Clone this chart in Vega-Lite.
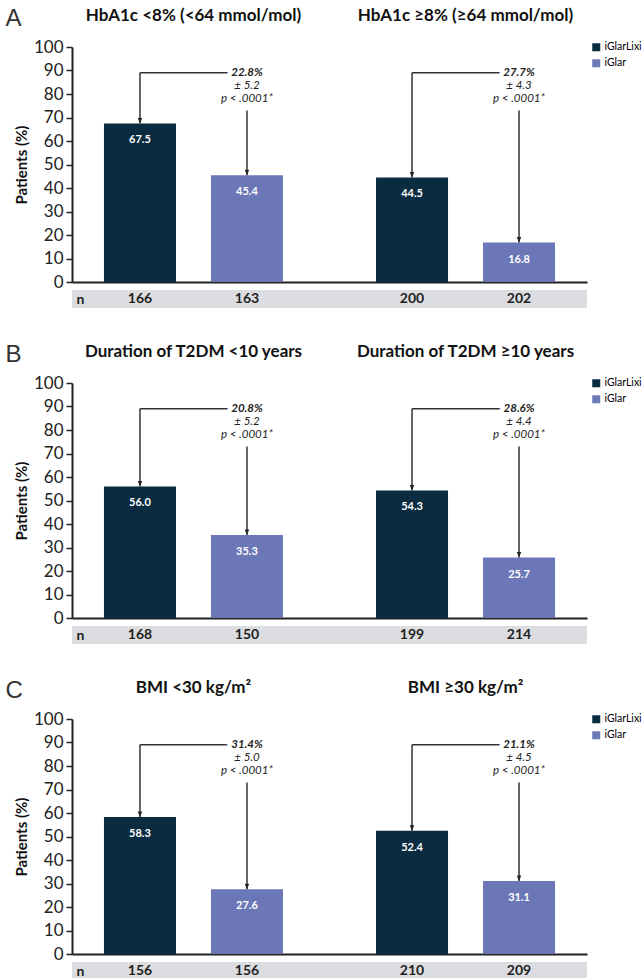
{
  "$schema": "https://vega.github.io/schema/vega-lite/v6.json",
  "background": "white",
  "padding": {"left": 5, "top": 6, "right": 0, "bottom": 0},
  "config": {"font": "Lato", "view": {"stroke": null}, "axis": {"grid": false}},
  "datasets": {
    "A": [
      {"group": "HbA1c <8% (<64 mmol/mol)", "arm": "iGlarLixi", "value": 67.5, "n": 166},
      {"group": "HbA1c <8% (<64 mmol/mol)", "arm": "iGlar", "value": 45.4, "n": 163, "diff": "22.8%", "se": "± 5.2", "p": "p < .0001*"},
      {"group": "HbA1c ≥8% (≥64 mmol/mol)", "arm": "iGlarLixi", "value": 44.5, "n": 200},
      {"group": "HbA1c ≥8% (≥64 mmol/mol)", "arm": "iGlar", "value": 16.8, "n": 202, "diff": "27.7%", "se": "± 4.3", "p": "p < .0001*"}
    ],
    "B": [
      {"group": "Duration of T2DM <10 years", "arm": "iGlarLixi", "value": 56.0, "n": 168},
      {"group": "Duration of T2DM <10 years", "arm": "iGlar", "value": 35.3, "n": 150, "diff": "20.8%", "se": "± 5.2", "p": "p < .0001*"},
      {"group": "Duration of T2DM ≥10 years", "arm": "iGlarLixi", "value": 54.3, "n": 199},
      {"group": "Duration of T2DM ≥10 years", "arm": "iGlar", "value": 25.7, "n": 214, "diff": "28.6%", "se": "± 4.4", "p": "p < .0001*"}
    ],
    "C": [
      {"group": "BMI <30 kg/m²", "arm": "iGlarLixi", "value": 58.3, "n": 156},
      {"group": "BMI <30 kg/m²", "arm": "iGlar", "value": 27.6, "n": 156, "diff": "31.4%", "se": "± 5.0", "p": "p < .0001*"},
      {"group": "BMI ≥30 kg/m²", "arm": "iGlarLixi", "value": 52.4, "n": 210},
      {"group": "BMI ≥30 kg/m²", "arm": "iGlar", "value": 31.1, "n": 209, "diff": "21.1%", "se": "± 4.5", "p": "p < .0001*"}
    ]
  },
  "resolve": {"scale": {"color": "independent"}, "legend": {"color": "independent"}},
  "spacing": 34,
  "vconcat": [
    {
      "spacing": 0,
      "resolve": {"scale": {"color": "independent"}, "legend": {"color": "independent"}},
      "vconcat": [
        {
          "width": 515, "height": 235,
          "data": {"name": "A"},
          "title": {"text": "A", "anchor": "start", "frame": "bounds", "font": "Liberation Sans", "fontSize": 24, "fontWeight": "normal", "color": "#333", "dx": -9, "dy": 25, "offset": 0},
          "encoding": {
            "x": {"field": "group", "type": "nominal", "sort": null, "scale": {"paddingInner": 0.342, "paddingOuter": 0.1175}, "axis": null},
            "xOffset": {"field": "arm", "type": "nominal", "sort": ["iGlarLixi", "iGlar"], "scale": {"paddingInner": 0.327, "paddingOuter": 0}},
            "y": {"field": "value", "type": "quantitative", "scale": {"domain": [0, 100], "nice": false}, "axis": {"values": [0,10,20,30,40,50,60,70,80,90,100], "title": "Patients (%)", "titleFontSize": 15, "titleFontWeight": "bold", "titleColor": "#111", "titlePadding": 4, "labelFontSize": 17, "labelColor": "#222", "labelPadding": 3, "tickSize": 6, "tickColor": "#222", "tickWidth": 1.5, "domainColor": "#222", "domainWidth": 2}}
          },
          "resolve": {"axis": {"x": "independent"}},
          "layer": [
            {"mark": {"type": "bar"}, "encoding": {"x": {"field": "group", "type": "nominal", "sort": null, "axis": {"orient": "bottom", "labels": false, "ticks": false, "title": null, "domainColor": "#222", "domainWidth": 2}}, "color": {"field": "arm", "type": "nominal", "scale": {"domain": ["iGlarLixi", "iGlar"], "range": ["#0b2b40", "#6c77b8"]}, "legend": {"orient": "none", "legendX": 519, "legendY": -5, "title": null, "symbolType": "square", "symbolSize": 64, "labelFontSize": 10.5, "labelOffset": 3, "labelFont": "Lato", "rowPadding": 5, "padding": 0}}}},
            {"mark": {"type": "text", "color": "white", "fontWeight": "bold", "fontSize": 11, "baseline": "middle", "dy": 17}, "encoding": {"x": {"field": "group", "type": "nominal", "sort": null, "axis": {"orient": "top", "domain": false, "ticks": false, "title": null, "labelFontSize": 17, "labelFontWeight": "bold", "labelColor": "#111", "labelPadding": 23, "labelLimit": 0, "labelAngle": 0}}, "text": {"field": "value", "type": "quantitative", "format": ".1f"}}},
            {"transform": [{"filter": "datum.arm == 'iGlarLixi'"}], "mark": {"type": "rule", "color": "#333", "strokeWidth": 1.5}, "encoding": {"y2": {"datum": 89}}},
            {"transform": [{"filter": "datum.arm == 'iGlar'"}], "mark": {"type": "rule", "color": "#333", "strokeWidth": 1.5}, "encoding": {"y2": {"datum": 73}}},
            {"mark": {"type": "line", "color": "#333", "strokeWidth": 1.5}, "encoding": {"y": {"datum": 89, "type": "quantitative"}, "detail": {"field": "group"}}},
            {"mark": {"type": "point", "shape": "M-0.45,-1.1L0.45,-1.1L0,0Z", "filled": true, "size": 100, "color": "#222", "opacity": 1}},
            {"transform": [{"filter": "datum.arm == 'iGlar'"}], "mark": {"type": "text", "fontStyle": "italic", "fontWeight": "bold", "fontSize": 11.5, "fill": "white", "stroke": "white", "strokeWidth": 8, "baseline": "middle"}, "encoding": {"y": {"datum": 89, "type": "quantitative"}, "text": {"field": "diff"}}},
            {"transform": [{"filter": "datum.arm == 'iGlar'"}], "mark": {"type": "text", "fontStyle": "italic", "fontWeight": "bold", "fontSize": 11.5, "color": "#222", "baseline": "middle"}, "encoding": {"y": {"datum": 89, "type": "quantitative"}, "text": {"field": "diff"}}},
            {"transform": [{"filter": "datum.arm == 'iGlar'"}], "mark": {"type": "text", "fontStyle": "italic", "fontSize": 11.5, "color": "#222", "baseline": "middle", "dy": 13}, "encoding": {"y": {"datum": 89, "type": "quantitative"}, "text": {"field": "se"}}},
            {"transform": [{"filter": "datum.arm == 'iGlar'"}], "mark": {"type": "text", "fontStyle": "italic", "fontSize": 11.5, "color": "#222", "baseline": "middle", "dy": 26}, "encoding": {"y": {"datum": 89, "type": "quantitative"}, "text": {"field": "p"}}}
          ]
        },
        {
          "width": 515, "height": 18,
          "layer": [
            {"data": {"values": [{}]}, "mark": {"type": "rect", "color": "#dcdde0", "x2Offset": -8}, "encoding": {}},
            {"data": {"name": "A"}, "mark": {"type": "text", "fontWeight": "bold", "fontSize": 14, "color": "#222"}, "encoding": {
              "x": {"field": "group", "type": "nominal", "sort": null, "scale": {"paddingInner": 0.342, "paddingOuter": 0.1175}, "axis": null},
              "xOffset": {"field": "arm", "type": "nominal", "sort": ["iGlarLixi", "iGlar"], "scale": {"paddingInner": 0.327, "paddingOuter": 0}},
              "y": {"datum": "n", "type": "nominal", "axis": {"title": null, "domain": false, "ticks": false, "labelAlign": "left", "labelPadding": -4, "labelFontWeight": "bold", "labelFontSize": 14, "labelColor": "#222", "zindex": 1}},
              "text": {"field": "n"}}}
          ]
        }
      ]
    },
    {
      "spacing": 0,
      "resolve": {"scale": {"color": "independent"}, "legend": {"color": "independent"}},
      "vconcat": [
        {
          "width": 515, "height": 235,
          "data": {"name": "B"},
          "title": {"text": "B", "anchor": "start", "frame": "bounds", "font": "Liberation Sans", "fontSize": 24, "fontWeight": "normal", "color": "#333", "dx": -9, "dy": 25, "offset": 0},
          "encoding": {
            "x": {"field": "group", "type": "nominal", "sort": null, "scale": {"paddingInner": 0.342, "paddingOuter": 0.1175}, "axis": null},
            "xOffset": {"field": "arm", "type": "nominal", "sort": ["iGlarLixi", "iGlar"], "scale": {"paddingInner": 0.327, "paddingOuter": 0}},
            "y": {"field": "value", "type": "quantitative", "scale": {"domain": [0, 100], "nice": false}, "axis": {"values": [0,10,20,30,40,50,60,70,80,90,100], "title": "Patients (%)", "titleFontSize": 15, "titleFontWeight": "bold", "titleColor": "#111", "titlePadding": 4, "labelFontSize": 17, "labelColor": "#222", "labelPadding": 3, "tickSize": 6, "tickColor": "#222", "tickWidth": 1.5, "domainColor": "#222", "domainWidth": 2}}
          },
          "resolve": {"axis": {"x": "independent"}},
          "layer": [
            {"mark": {"type": "bar"}, "encoding": {"x": {"field": "group", "type": "nominal", "sort": null, "axis": {"orient": "bottom", "labels": false, "ticks": false, "title": null, "domainColor": "#222", "domainWidth": 2}}, "color": {"field": "arm", "type": "nominal", "scale": {"domain": ["iGlarLixi", "iGlar"], "range": ["#0b2b40", "#6c77b8"]}, "legend": {"orient": "none", "legendX": 519, "legendY": -5, "title": null, "symbolType": "square", "symbolSize": 64, "labelFontSize": 10.5, "labelOffset": 3, "labelFont": "Lato", "rowPadding": 5, "padding": 0}}}},
            {"mark": {"type": "text", "color": "white", "fontWeight": "bold", "fontSize": 11, "baseline": "middle", "dy": 17}, "encoding": {"x": {"field": "group", "type": "nominal", "sort": null, "axis": {"orient": "top", "domain": false, "ticks": false, "title": null, "labelFontSize": 17, "labelFontWeight": "bold", "labelColor": "#111", "labelPadding": 23, "labelLimit": 0, "labelAngle": 0}}, "text": {"field": "value", "type": "quantitative", "format": ".1f"}}},
            {"transform": [{"filter": "datum.arm == 'iGlarLixi'"}], "mark": {"type": "rule", "color": "#333", "strokeWidth": 1.5}, "encoding": {"y2": {"datum": 89}}},
            {"transform": [{"filter": "datum.arm == 'iGlar'"}], "mark": {"type": "rule", "color": "#333", "strokeWidth": 1.5}, "encoding": {"y2": {"datum": 73}}},
            {"mark": {"type": "line", "color": "#333", "strokeWidth": 1.5}, "encoding": {"y": {"datum": 89, "type": "quantitative"}, "detail": {"field": "group"}}},
            {"mark": {"type": "point", "shape": "M-0.45,-1.1L0.45,-1.1L0,0Z", "filled": true, "size": 100, "color": "#222", "opacity": 1}},
            {"transform": [{"filter": "datum.arm == 'iGlar'"}], "mark": {"type": "text", "fontStyle": "italic", "fontWeight": "bold", "fontSize": 11.5, "fill": "white", "stroke": "white", "strokeWidth": 8, "baseline": "middle"}, "encoding": {"y": {"datum": 89, "type": "quantitative"}, "text": {"field": "diff"}}},
            {"transform": [{"filter": "datum.arm == 'iGlar'"}], "mark": {"type": "text", "fontStyle": "italic", "fontWeight": "bold", "fontSize": 11.5, "color": "#222", "baseline": "middle"}, "encoding": {"y": {"datum": 89, "type": "quantitative"}, "text": {"field": "diff"}}},
            {"transform": [{"filter": "datum.arm == 'iGlar'"}], "mark": {"type": "text", "fontStyle": "italic", "fontSize": 11.5, "color": "#222", "baseline": "middle", "dy": 13}, "encoding": {"y": {"datum": 89, "type": "quantitative"}, "text": {"field": "se"}}},
            {"transform": [{"filter": "datum.arm == 'iGlar'"}], "mark": {"type": "text", "fontStyle": "italic", "fontSize": 11.5, "color": "#222", "baseline": "middle", "dy": 26}, "encoding": {"y": {"datum": 89, "type": "quantitative"}, "text": {"field": "p"}}}
          ]
        },
        {
          "width": 515, "height": 18,
          "layer": [
            {"data": {"values": [{}]}, "mark": {"type": "rect", "color": "#dcdde0", "x2Offset": -8}, "encoding": {}},
            {"data": {"name": "B"}, "mark": {"type": "text", "fontWeight": "bold", "fontSize": 14, "color": "#222"}, "encoding": {
              "x": {"field": "group", "type": "nominal", "sort": null, "scale": {"paddingInner": 0.342, "paddingOuter": 0.1175}, "axis": null},
              "xOffset": {"field": "arm", "type": "nominal", "sort": ["iGlarLixi", "iGlar"], "scale": {"paddingInner": 0.327, "paddingOuter": 0}},
              "y": {"datum": "n", "type": "nominal", "axis": {"title": null, "domain": false, "ticks": false, "labelAlign": "left", "labelPadding": -4, "labelFontWeight": "bold", "labelFontSize": 14, "labelColor": "#222", "zindex": 1}},
              "text": {"field": "n"}}}
          ]
        }
      ]
    },
    {
      "spacing": 0,
      "resolve": {"scale": {"color": "independent"}, "legend": {"color": "independent"}},
      "vconcat": [
        {
          "width": 515, "height": 235,
          "data": {"name": "C"},
          "title": {"text": "C", "anchor": "start", "frame": "bounds", "font": "Liberation Sans", "fontSize": 24, "fontWeight": "normal", "color": "#333", "dx": -9, "dy": 25, "offset": 0},
          "encoding": {
            "x": {"field": "group", "type": "nominal", "sort": null, "scale": {"paddingInner": 0.342, "paddingOuter": 0.1175}, "axis": null},
            "xOffset": {"field": "arm", "type": "nominal", "sort": ["iGlarLixi", "iGlar"], "scale": {"paddingInner": 0.327, "paddingOuter": 0}},
            "y": {"field": "value", "type": "quantitative", "scale": {"domain": [0, 100], "nice": false}, "axis": {"values": [0,10,20,30,40,50,60,70,80,90,100], "title": "Patients (%)", "titleFontSize": 15, "titleFontWeight": "bold", "titleColor": "#111", "titlePadding": 4, "labelFontSize": 17, "labelColor": "#222", "labelPadding": 3, "tickSize": 6, "tickColor": "#222", "tickWidth": 1.5, "domainColor": "#222", "domainWidth": 2}}
          },
          "resolve": {"axis": {"x": "independent"}},
          "layer": [
            {"mark": {"type": "bar"}, "encoding": {"x": {"field": "group", "type": "nominal", "sort": null, "axis": {"orient": "bottom", "labels": false, "ticks": false, "title": null, "domainColor": "#222", "domainWidth": 2}}, "color": {"field": "arm", "type": "nominal", "scale": {"domain": ["iGlarLixi", "iGlar"], "range": ["#0b2b40", "#6c77b8"]}, "legend": {"orient": "none", "legendX": 519, "legendY": -5, "title": null, "symbolType": "square", "symbolSize": 64, "labelFontSize": 10.5, "labelOffset": 3, "labelFont": "Lato", "rowPadding": 5, "padding": 0}}}},
            {"mark": {"type": "text", "color": "white", "fontWeight": "bold", "fontSize": 11, "baseline": "middle", "dy": 17}, "encoding": {"x": {"field": "group", "type": "nominal", "sort": null, "axis": {"orient": "top", "domain": false, "ticks": false, "title": null, "labelFontSize": 17, "labelFontWeight": "bold", "labelColor": "#111", "labelPadding": 23, "labelLimit": 0, "labelAngle": 0}}, "text": {"field": "value", "type": "quantitative", "format": ".1f"}}},
            {"transform": [{"filter": "datum.arm == 'iGlarLixi'"}], "mark": {"type": "rule", "color": "#333", "strokeWidth": 1.5}, "encoding": {"y2": {"datum": 89}}},
            {"transform": [{"filter": "datum.arm == 'iGlar'"}], "mark": {"type": "rule", "color": "#333", "strokeWidth": 1.5}, "encoding": {"y2": {"datum": 73}}},
            {"mark": {"type": "line", "color": "#333", "strokeWidth": 1.5}, "encoding": {"y": {"datum": 89, "type": "quantitative"}, "detail": {"field": "group"}}},
            {"mark": {"type": "point", "shape": "M-0.45,-1.1L0.45,-1.1L0,0Z", "filled": true, "size": 100, "color": "#222", "opacity": 1}},
            {"transform": [{"filter": "datum.arm == 'iGlar'"}], "mark": {"type": "text", "fontStyle": "italic", "fontWeight": "bold", "fontSize": 11.5, "fill": "white", "stroke": "white", "strokeWidth": 8, "baseline": "middle"}, "encoding": {"y": {"datum": 89, "type": "quantitative"}, "text": {"field": "diff"}}},
            {"transform": [{"filter": "datum.arm == 'iGlar'"}], "mark": {"type": "text", "fontStyle": "italic", "fontWeight": "bold", "fontSize": 11.5, "color": "#222", "baseline": "middle"}, "encoding": {"y": {"datum": 89, "type": "quantitative"}, "text": {"field": "diff"}}},
            {"transform": [{"filter": "datum.arm == 'iGlar'"}], "mark": {"type": "text", "fontStyle": "italic", "fontSize": 11.5, "color": "#222", "baseline": "middle", "dy": 13}, "encoding": {"y": {"datum": 89, "type": "quantitative"}, "text": {"field": "se"}}},
            {"transform": [{"filter": "datum.arm == 'iGlar'"}], "mark": {"type": "text", "fontStyle": "italic", "fontSize": 11.5, "color": "#222", "baseline": "middle", "dy": 26}, "encoding": {"y": {"datum": 89, "type": "quantitative"}, "text": {"field": "p"}}}
          ]
        },
        {
          "width": 515, "height": 18,
          "layer": [
            {"data": {"values": [{}]}, "mark": {"type": "rect", "color": "#dcdde0", "x2Offset": -8}, "encoding": {}},
            {"data": {"name": "C"}, "mark": {"type": "text", "fontWeight": "bold", "fontSize": 14, "color": "#222"}, "encoding": {
              "x": {"field": "group", "type": "nominal", "sort": null, "scale": {"paddingInner": 0.342, "paddingOuter": 0.1175}, "axis": null},
              "xOffset": {"field": "arm", "type": "nominal", "sort": ["iGlarLixi", "iGlar"], "scale": {"paddingInner": 0.327, "paddingOuter": 0}},
              "y": {"datum": "n", "type": "nominal", "axis": {"title": null, "domain": false, "ticks": false, "labelAlign": "left", "labelPadding": -4, "labelFontWeight": "bold", "labelFontSize": 14, "labelColor": "#222", "zindex": 1}},
              "text": {"field": "n"}}}
          ]
        }
      ]
    }
  ]
}
